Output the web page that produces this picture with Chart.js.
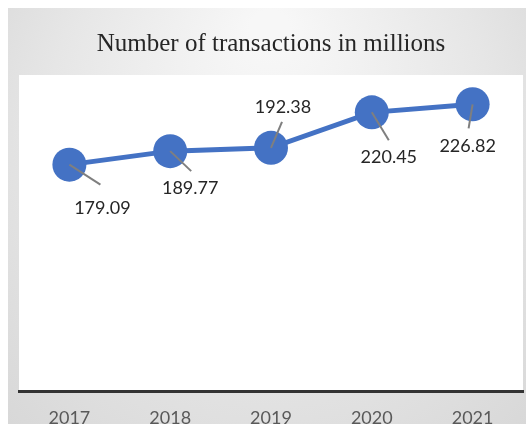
<!DOCTYPE html>
<html>
<head>
<meta charset="utf-8">
<script src="https://cdn.jsdelivr.net/npm/chart.js@4/dist/chart.umd.min.js"></script>
<style>
  html, body { margin: 0; padding: 0; background: #fff; }
  canvas { display: block; }
</style>
</head>
<body>
<canvas id="transactions-chart" width="526" height="424"></canvas>
<script>
const years = ['2017', '2018', '2019', '2020', '2021'];
const transactions = [179.09, 189.77, 192.38, 220.45, 226.82];

// where each value label sits relative to its point, plus the end of its leader line
const labelOffsets = [[33, 44], [20, 37], [12, -41], [17, 45], [-5, 42]];
const leaderEnds = [[31, 20], [21, 20], [11, -26], [17, 28], [-4, 24]];

const lineBlue = '#4472C4';

const slideBackground = {
    id: 'slideBackground',
    beforeDraw: chart => {
        const ctx = chart.ctx;
        const area = chart.chartArea;
        ctx.save();
        ctx.fillStyle = '#ffffff';
        ctx.fillRect(0, 0, chart.width, chart.height);
        const grad = ctx.createRadialGradient(270, 30, 20, 270, 200, 420);
        grad.addColorStop(0, '#f7f7f7');
        grad.addColorStop(0.5, '#e6e6e6');
        grad.addColorStop(1, '#d2d2d2');
        ctx.fillStyle = grad;
        ctx.fillRect(8, 8, chart.width - 8, chart.height - 8);
        ctx.fillStyle = '#ffffff';
        ctx.fillRect(area.left, area.top, area.right - area.left, area.bottom - area.top);
        ctx.restore();
    }
};

const leaderLabels = {
    id: 'leaderLabels',
    afterDatasetsDraw: chart => {
        const ctx = chart.ctx;
        const points = chart.getDatasetMeta(0).data;
        ctx.save();
        points.forEach((pt, i) => {
            ctx.strokeStyle = '#7f7f7f';
            ctx.lineWidth = 2;
            ctx.beginPath();
            ctx.moveTo(pt.x, pt.y);
            ctx.lineTo(pt.x + leaderEnds[i][0], pt.y + leaderEnds[i][1]);
            ctx.stroke();

            ctx.fillStyle = '#262626';
            ctx.font = '18px Lato, "Open Sans", sans-serif';
            ctx.textAlign = 'center';
            ctx.textBaseline = 'middle';
            ctx.fillText(transactions[i].toFixed(2), pt.x + labelOffsets[i][0], pt.y + labelOffsets[i][1]);
        });
        ctx.restore();
    }
};

new Chart(document.getElementById('transactions-chart').getContext('2d'), {
    type: 'line',
    data: {
        labels: years,
        datasets: [{
            label: 'Number of transactions in millions',
            data: transactions,
            borderColor: lineBlue,
            borderWidth: 5,
            backgroundColor: lineBlue,
            pointBackgroundColor: lineBlue,
            pointBorderWidth: 0,
            pointRadius: 17,
            pointHoverRadius: 17,
            tension: 0
        }]
    },
    options: {
        responsive: false,
        animation: false,
        events: [],
        layout: {
            autoPadding: false,
            padding: { left: 19, right: 3, top: 8, bottom: -21 }
        },
        plugins: {
            legend: { display: false },
            tooltip: { enabled: false },
            title: {
                display: true,
                text: 'Number of transactions in millions',
                color: '#262626',
                font: { family: '"Liberation Serif", "Times New Roman", serif', size: 25, weight: 'normal' },
                padding: { top: 21, bottom: 16 }
            }
        },
        scales: {
            x: {
                offset: true,
                grid: { display: false, drawTicks: false },
                border: { display: true, color: '#333333', width: 3 },
                ticks: {
                    color: '#595959',
                    font: { family: 'Lato, "Open Sans", sans-serif', size: 18, lineHeight: 1 },
                    padding: 18
                }
            },
            y: {
                display: false,
                min: 0,
                max: 250
            }
        }
    },
    plugins: [slideBackground, leaderLabels]
});
</script>
</body>
</html>
